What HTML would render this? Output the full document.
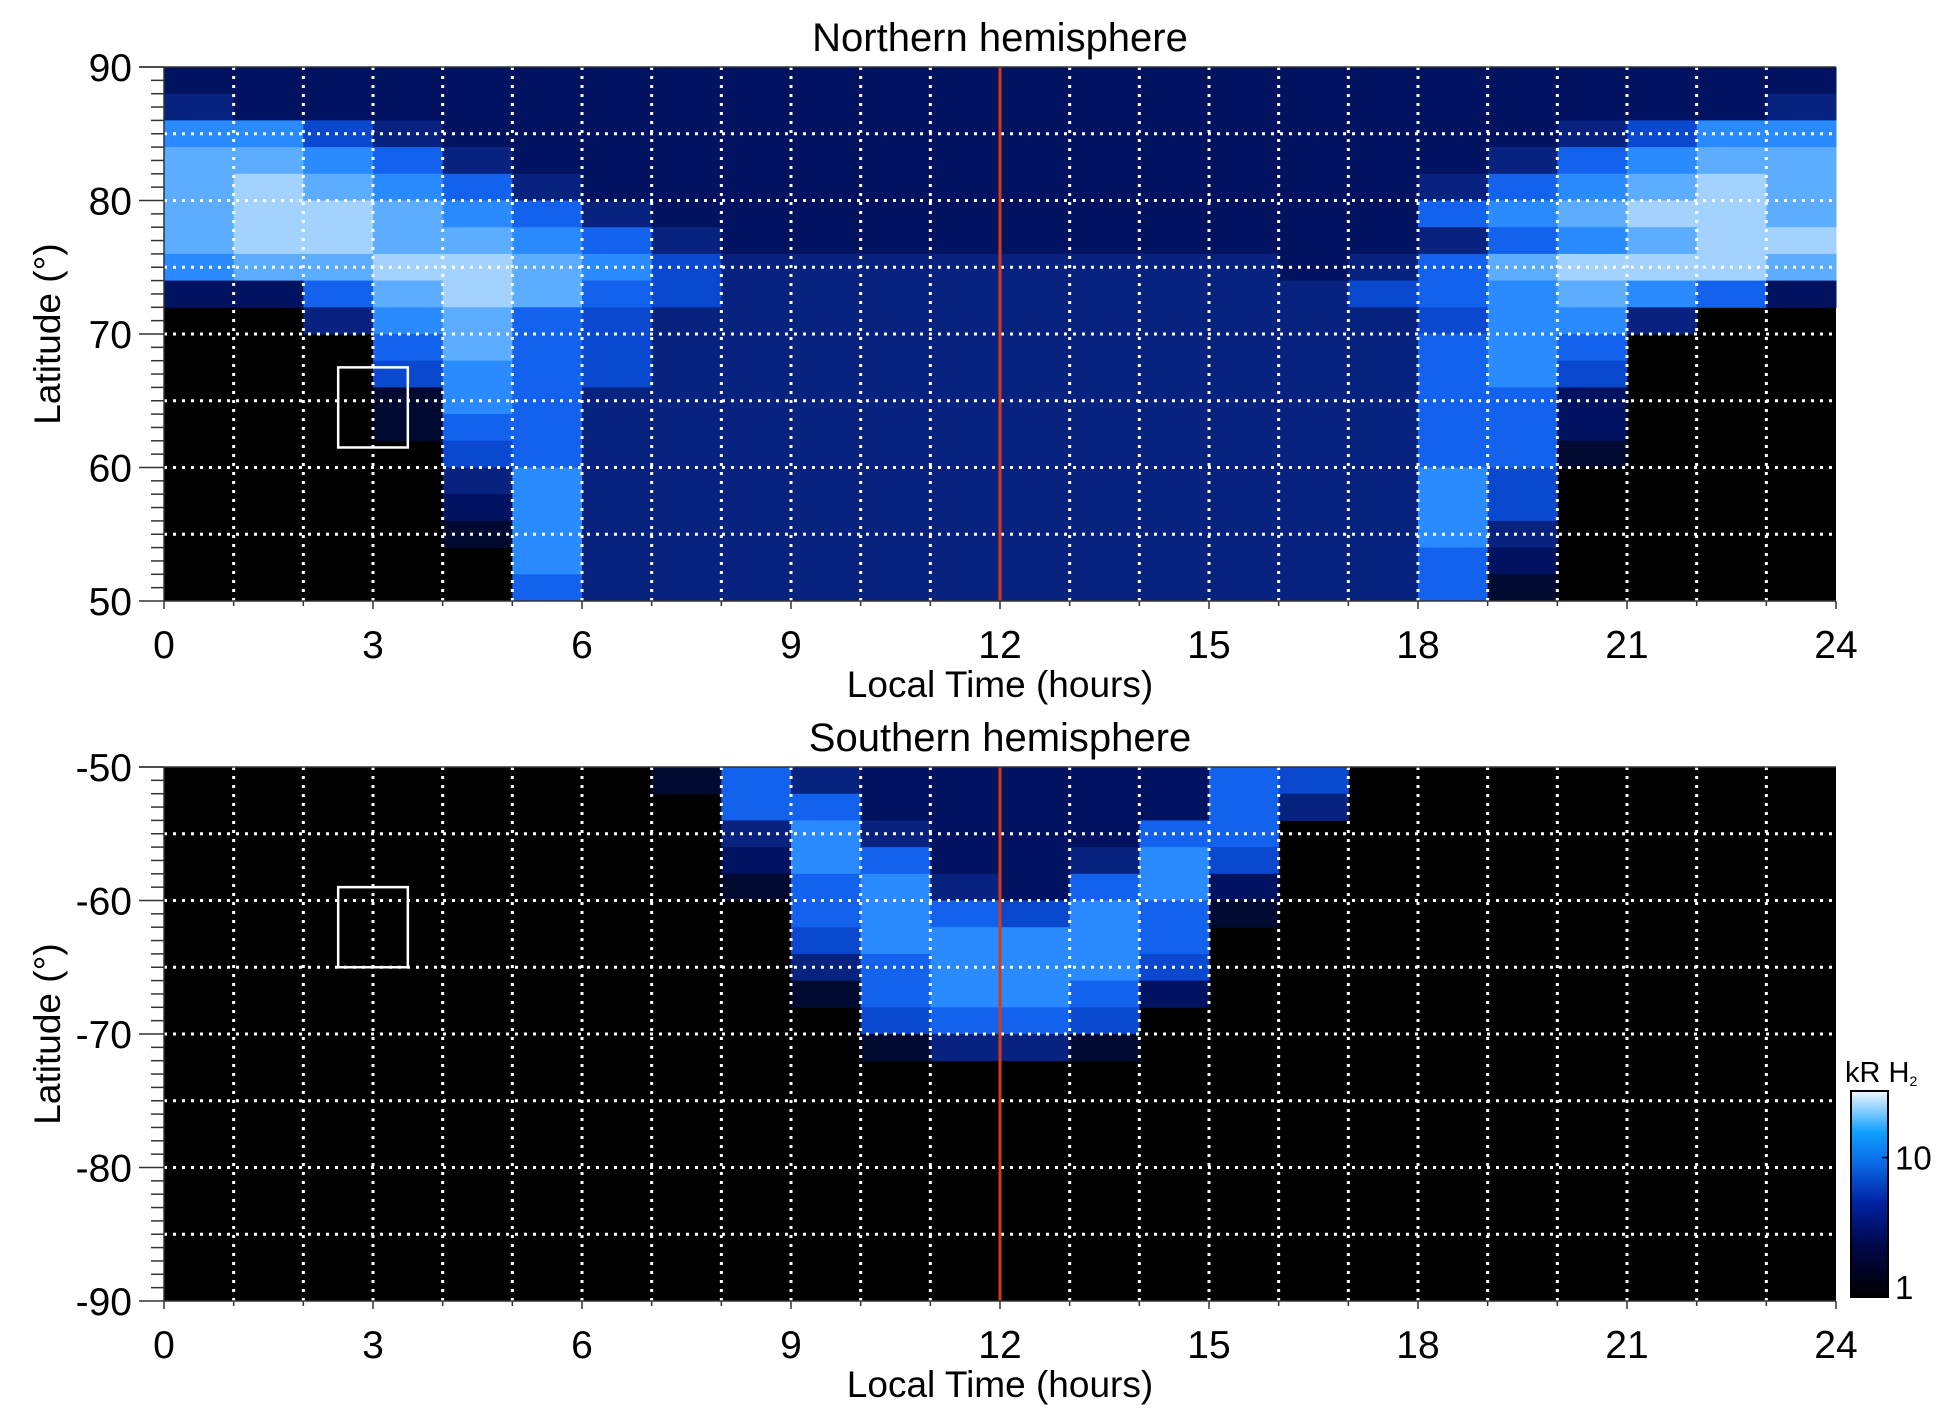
<!DOCTYPE html>
<html><head><meta charset="utf-8"><style>
html,body{margin:0;padding:0;background:#fff;}
svg{display:block;font-family:"Liberation Sans",Arial,sans-serif;}
</style></head><body>
<svg id="chart" width="1950" height="1423" viewBox="0 0 1950 1423" xmlns="http://www.w3.org/2000/svg">
<defs>
<linearGradient id="cbar" x1="0" y1="1" x2="0" y2="0">
<stop offset="0" stop-color="#000000"/><stop offset="0.25" stop-color="#00084a"/>
<stop offset="0.45" stop-color="#0020a0"/><stop offset="0.65" stop-color="#0a6ae8"/>
<stop offset="0.8" stop-color="#10a0ff"/><stop offset="1" stop-color="#f0f8ff"/>
</linearGradient>
</defs>
<g id="layer"></g>
</svg>
<script>
// ---- data (intensity levels 0-9, rows = 2° latitude bins, columns = 1 h local time bins)
const hours = [0,1,2,3,4,5,6,7,8,9,10,11,12,13,14,15,16,17,18,19,20,21,22,23];
const northLatTop = [90,88,86,84,82,80,78,76,74,72,70,68,66,64,62,60,58,56,54,52];
const northRows = [
"222222222222222222222222",
"322222222222222222222223",
"664322222222222222223466",
"776532222222222222235677",
"787653222222222222356787",
"788765322222222222567887",
"788776532222222222356788",
"677887643333333323578887",
"225787543333333334567652",
"003675433333333333466300",
"000575433333333333565000",
"000465433333333333564000",
"000165333333333333552000",
"000155333333333333552000",
"000045333333333333551000",
"000036333333333333640000",
"000026333333333333640000",
"000016333333333333630000",
"000006333333333333520000",
"000005333333333333510000"
];
const southLatTop = [-50,-52,-54,-56,-58,-60,-62,-64,-66,-68,-70,-72,-74,-76,-78,-80,-82,-84,-86,-88];
const southRows = [
"000000015322222540000000",
"000000005522222530000000",
"000000003632225500000000",
"000000002652236400000000",
"000000001563256200000000",
"000000000565465100000000",
"000000000466665000000000",
"000000000356664000000000",
"000000000156652000000000",
"000000000045540000000000",
"000000000013310000000000",
"000000000000000000000000",
"000000000000000000000000",
"000000000000000000000000",
"000000000000000000000000",
"000000000000000000000000",
"000000000000000000000000",
"000000000000000000000000",
"000000000000000000000000",
"000000000000000000000000"
];
const xTickLabels = [0,3,6,9,12,15,18,21,24];
const northYTicks = [90,80,70,60,50];
const southYTicks = [-50,-60,-70,-80,-90];
const gridLatsNorth = [85,80,75,70,65,60,55];
const gridLatsSouth = [-55,-60,-65,-70,-75,-80,-85];
const boxNorth = [2.5,3.5,61.5,67.5];
const boxSouth = [2.5,3.5,-59,-65];
const cbarTicks = [1,10];
const levelColors = ["#000000","#000a30","#001260","#08237f","#0a48d0","#1262ee","#2a8aff","#5cacff","#a4d2ff","#e8f6ff"];

const NS="http://www.w3.org/2000/svg";
const layer=document.getElementById('layer');
function mk(tag,attrs,parent){const e=document.createElementNS(NS,tag);for(const k in attrs)e.setAttribute(k,attrs[k]);(parent||layer).appendChild(e);return e;}
const X0=164,X1=1836;
function xs(h){return X0+h*(X1-X0)/24;}

function panel(name,top,latMax,latMin,lats,rows,yTicks,gridLats,box,title){
  const bottom=top+534;
  const ys=l=>top+(latMax-l)*(bottom-top)/(latMax-latMin);
  const g=mk('g',{});
  
  
  const bg=mk('rect',{x:X0,y:top,width:X1-X0,height:bottom-top,fill:'#000'},g);
  
  
  rows.forEach((row,ri)=>{
    for(let ci=0;ci<hours.length;ci++){
      const v=+row[ci]; if(!v) continue;
      const y0=ys(lats[ri]), y1=ys(lats[ri]-2);
      const c=mk('rect',{x:xs(hours[ci]),y:Math.min(y0,y1),width:xs(hours[ci]+1)-xs(hours[ci])+0.5,height:Math.abs(y1-y0)+0.5,fill:levelColors[v]},g);
      
      
    }
  });
  for(let h=1;h<24;h++){
    const l=mk('line',{x1:xs(h),x2:xs(h),y1:top,y2:bottom,stroke:'#fff','stroke-width':3,'stroke-dasharray':'3 6'},g);
    
    
  }
  gridLats.forEach(lt=>{
    const l=mk('line',{x1:X0,x2:X1,y1:ys(lt),y2:ys(lt),stroke:'#fff','stroke-width':3,'stroke-dasharray':'3 6'},g);
    
    
  });
  const bx=mk('rect',{x:xs(box[0]),y:Math.min(ys(box[2]),ys(box[3])),width:xs(box[1])-xs(box[0]),height:Math.abs(ys(box[3])-ys(box[2])),fill:'none',stroke:'#fff','stroke-width':2.5},g);
  
  
  const rl=mk('line',{x1:xs(12),x2:xs(12),y1:top,y2:bottom,stroke:'#d83a12','stroke-width':3},g);
  
  
  mk('line',{x1:X0,x2:X0,y1:top,y2:bottom,stroke:'#333','stroke-width':1.5},g);
  mk('line',{x1:X0,x2:X1,y1:bottom,y2:bottom,stroke:'#333','stroke-width':1.5},g);
  mk('line',{x1:X0-25,x2:X1,y1:top,y2:top,stroke:'#333','stroke-width':1.5},g);
  for(let i=0;i<=40;i++){
    const lt=latMax-i;
    const major=(i%10===0);
    mk('line',{x1:major?X0-25:X0-13,x2:X0,y1:ys(lt),y2:ys(lt),stroke:'#333','stroke-width':1.5},g);
  }
  for(let h=0;h<=24;h++){
    mk('line',{x1:xs(h),x2:xs(h),y1:bottom,y2:bottom+(h%3===0?8:5),stroke:'#333','stroke-width':1.5},g);
  }
  yTicks.forEach(t=>{
    const tx=mk('text',{x:X0-32,y:ys(t)+14,'font-size':39,'text-anchor':'end',fill:'#000'},g);
    tx.textContent=t;
    
    
  });
  xTickLabels.forEach(t=>{
    const tx=mk('text',{x:xs(t),y:bottom+57,'font-size':39,'text-anchor':'middle',fill:'#000'},g);
    tx.textContent=t;
    
    
  });
  const xt=mk('text',{x:(X0+X1)/2,y:bottom+96,'font-size':37,'text-anchor':'middle',fill:'#000'},g);
  xt.textContent='Local Time (hours)';
  
  
  const yt=mk('text',{x:0,y:0,'font-size':37,'text-anchor':'middle',fill:'#000',transform:`translate(60,${(top+bottom)/2}) rotate(-90)`},g);
  yt.textContent='Latitude (°)';
  
  
  const tt=mk('text',{x:(X0+X1)/2,y:top-16,'font-size':40,'text-anchor':'middle',fill:'#000'},g);
  tt.textContent=title;
  
  
}
panel('northern',67,90,50,northLatTop,northRows,northYTicks,gridLatsNorth,boxNorth,'Northern hemisphere');
panel('southern',767,-50,-90,southLatTop,southRows,southYTicks,gridLatsSouth,boxSouth,'Southern hemisphere');

const CB={x:1851,y:1091,w:37,h:206};
const cb=mk('rect',{x:CB.x,y:CB.y,width:CB.w,height:CB.h,fill:'url(#cbar)',stroke:'#000','stroke-width':2});


const cbMax=Math.log10(30);
cbarTicks.forEach(t=>{
  const y=CB.y+CB.h-(Math.log10(t)/cbMax)*CB.h;
  mk('line',{x1:CB.x+CB.w-6,x2:CB.x+CB.w,y1:y,y2:y,stroke:'#000','stroke-width':1.5});
  const tx=mk('text',{x:CB.x+CB.w+7,y:y+(t===1?2:12),'font-size':33,fill:'#000'});
  tx.textContent=t;
  
  
});
const ct=mk('text',{x:1845,y:1082,'font-size':29,fill:'#000'});
ct.innerHTML='kR H<tspan font-size="14" dy="4">2</tspan>';


</script>
</body></html>
